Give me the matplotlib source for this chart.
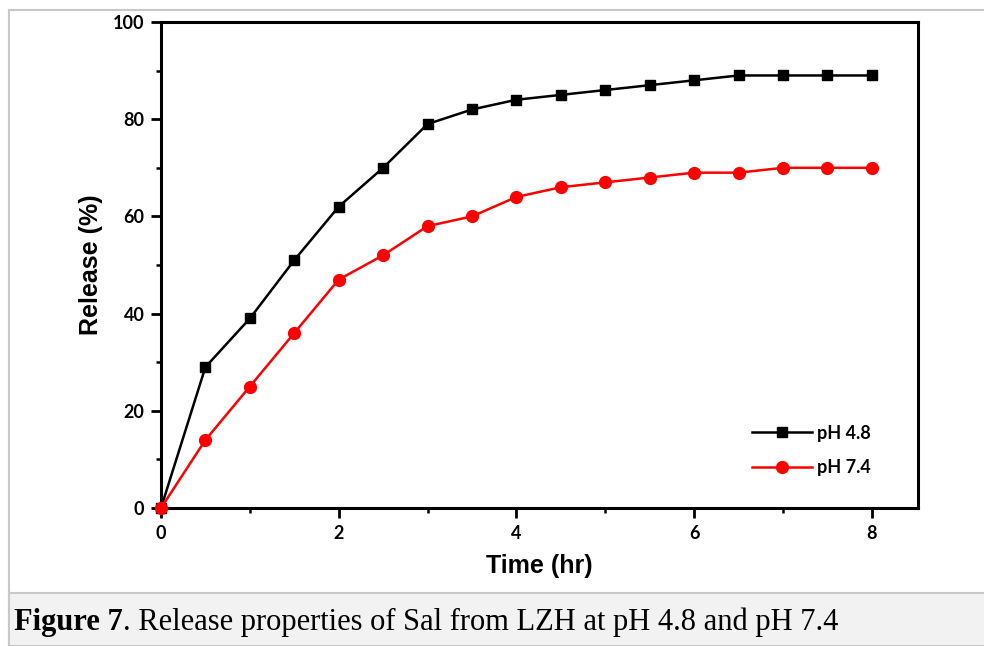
import numpy as np
import matplotlib.pyplot as plt
from matplotlib.patches import Rectangle
from matplotlib.ticker import MultipleLocator

# release data
time_hr = [0, 0.5, 1, 1.5, 2, 2.5, 3, 3.5, 4, 4.5, 5, 5.5, 6, 6.5, 7, 7.5, 8]
release_ph48 = [0, 29, 39, 51, 62, 70, 79, 82, 84, 85, 86, 87, 88, 89, 89, 89, 89]
release_ph74 = [0, 14, 25, 36, 47, 52, 58, 60, 64, 66, 67, 68, 69, 69, 70, 70, 70]

tick_font = 'Lato'
label_font = 'Liberation Sans'
caption_font = 'Liberation Serif'

fig = plt.figure(figsize=(9.84, 6.46), dpi=100)

# outer frame and caption band (behind the axes)
fig.patches.append(Rectangle((9/984, 0), 1.0, 1 - 10/646, transform=fig.transFigure,
                             facecolor='white', edgecolor='#c8c8c8', lw=1.5, zorder=-5))
fig.patches.append(Rectangle((9/984, 0), 1.0, 1 - 593/646, transform=fig.transFigure,
                             facecolor='#f2f2f2', edgecolor='#c8c8c8', lw=1.5, zorder=-4))

ax = fig.add_axes([161/984, 1 - 508/646, (918 - 161)/984, (508 - 22)/646])
ax.set_facecolor('none')
ax.plot(time_hr, release_ph48, color='black', lw=1.8, marker='s', ms=7.5,
        label='pH 4.8', clip_on=False, zorder=3)
ax.plot(time_hr, release_ph74, color='red', lw=1.8, marker='o', ms=8.5,
        label='pH 7.4', clip_on=False, zorder=3)

ax.set_xlim(0, 8.52)
ax.set_ylim(0, 100)
ax.xaxis.set_major_locator(MultipleLocator(2))
ax.xaxis.set_minor_locator(MultipleLocator(1))
ax.yaxis.set_major_locator(MultipleLocator(20))
ax.yaxis.set_minor_locator(MultipleLocator(10))
ax.tick_params(which='major', direction='out', length=7, width=2, pad=5)
ax.tick_params(which='minor', direction='out', length=3.5, width=1.8)
for lab in ax.get_xticklabels() + ax.get_yticklabels():
    lab.set_fontfamily(tick_font)
    lab.set_fontweight('bold')
    lab.set_fontsize(13)
for sp in ax.spines.values():
    sp.set_linewidth(2.2)

ax.set_xlabel('Time (hr)', fontfamily=label_font, fontweight='bold', fontsize=18, labelpad=9)
ax.set_ylabel('Release (%)', fontfamily=label_font, fontweight='bold', fontsize=18, labelpad=7)

ax.legend(loc='upper left', bbox_to_anchor=(0.769, 0.19), frameon=False, borderpad=0,
          prop={'family': tick_font, 'weight': 'bold', 'size': 13},
          handlelength=3.3, handletextpad=0.3, labelspacing=0.95)

cap = fig.text(14/984, 1 - 630/646, 'Figure 7', fontsize=22, fontweight='bold',
               fontfamily=caption_font, va='baseline')
ax.annotate('. Release properties of Sal from LZH at pH 4.8 and pH 7.4', xy=(1, 0),
            xycoords=cap, ha='left', va='bottom', fontsize=22, fontfamily=caption_font,
            annotation_clip=False)

fig.savefig('out.png', dpi=100)
